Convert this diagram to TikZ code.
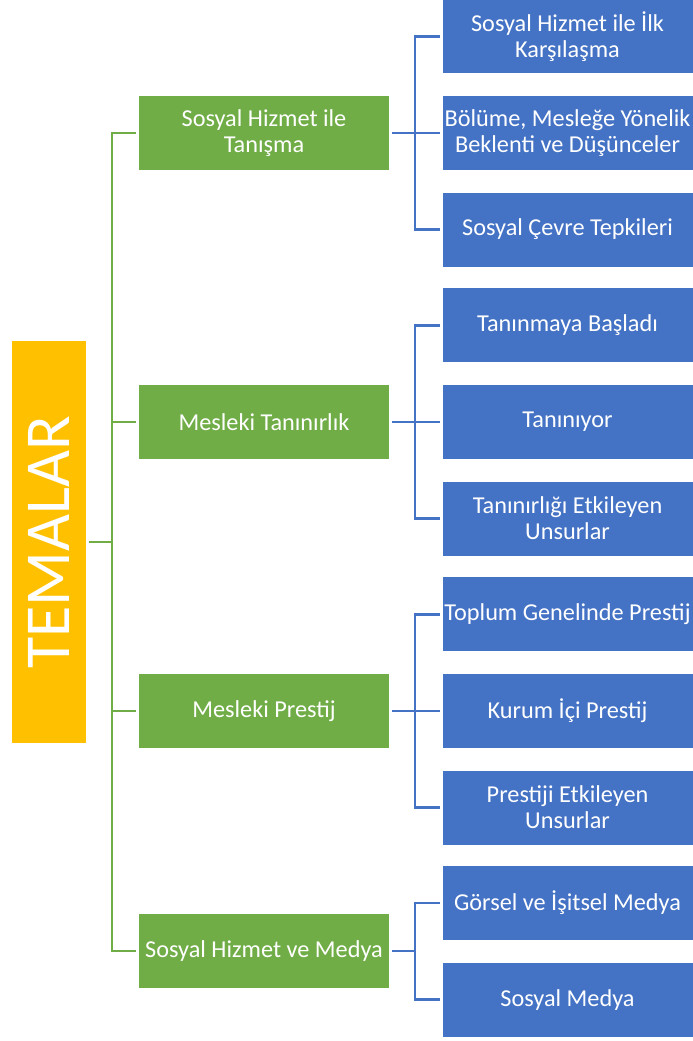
\documentclass[tikz,border=0pt]{standalone}
\usepackage{fontspec}
\setmainfont{Carlito}
\usepackage{graphicx}
\usepackage{tikz}
\usetikzlibrary{positioning}
\definecolor{temagreen}{HTML}{70AD47}
\definecolor{temablue}{HTML}{4472C4}
\definecolor{temaorange}{HTML}{FFC000}

\begin{document}
\begin{tikzpicture}[
    x=0.75pt, y=-0.75pt,
    node distance=16.5pt and 39.75pt,
    themebox/.style={rectangle, fill=temagreen, text=white, align=center, minimum width=187.5pt, minimum height=55.5pt, inner sep=0pt, font=\fontsize{18.2}{19.5}\selectfont},
    subbox/.style={themebox, fill=temablue},
    rootbox/.style={rectangle, fill=temaorange, text=white, minimum width=55.5pt, minimum height=301.5pt, inner sep=0pt, font=\fontsize{48}{58}\selectfont},
    gline/.style={draw=temagreen, line width=1.7pt, shorten >=2.25pt},
    bline/.style={draw=temablue, line width=1.7pt, shorten >=1.5pt}
]
    \useasboundingbox (0,0) rectangle (692,1041);

    \node[rootbox] (root) at (49,542) {\rotatebox{90}{TEMALAR}};

    \node[themebox] (g1) at (264,133) {Sosyal Hizmet ile\\Tanışma};
    \node[themebox] (g2) at (264,422) {Mesleki Tanınırlık};
    \node[themebox] (g3) at (264,711) {Mesleki Prestij};
    \node[themebox] (g4) at (264,951) {Sosyal Hizmet ve Medya};

    % first group
    \node[subbox, right=of g1] (b12) {Bölüme, Mesleğe Yönelik\\Beklenti ve Düşünceler};
    \node[subbox, above=of b12] (b11) {Sosyal Hizmet ile İlk\\Karşılaşma};
    \node[subbox, below=of b12] (b13) {Sosyal Çevre Tepkileri};
    % second group
    \node[subbox, right=of g2] (b22) {Tanınıyor};
    \node[subbox, above=of b22] (b21) {Tanınmaya Başladı};
    \node[subbox, below=of b22] (b23) {Tanınırlığı Etkileyen\\Unsurlar};
    % third group
    \node[subbox, right=of g3] (b32) {Kurum İçi Prestij};
    \node[subbox, above=of b32] (b31) {Toplum Genelinde Prestij};
    \node[subbox, below=of b32] (b33) {Prestiji Etkileyen\\Unsurlar};
    % fourth group
    \node[subbox, right=of g4, yshift=36pt] (b41) {Görsel ve İşitsel Medya};
    \node[subbox, below=of b41] (b42) {Sosyal Medya};

    % green trunk
    \coordinate[left=20.25pt of g1.west] (t1);
    \draw[gline] (root -| t1) -- (root);
    \draw[gline, shorten <=2.25pt] (g1.west) -- (t1) |- (g4.west);
    \draw[gline] (g2.west -| t1) -- (g2.west);
    \draw[gline] (g3.west -| t1) -- (g3.west);

    % blue brackets
    \coordinate[right=19.5pt of g1.east] (k1);
    \coordinate[right=19.5pt of g2.east] (k2);
    \coordinate[right=19.5pt of g3.east] (k3);
    \coordinate[right=19.5pt of g4.east] (k4);
    \draw[bline, shorten <=2.25pt] (g1.east) -- (b12.west);
    \draw[bline, shorten <=1.5pt] (b11.west) -| (k1) |- (b13.west);
    \draw[bline, shorten <=2.25pt] (g2.east) -- (b22.west);
    \draw[bline, shorten <=1.5pt] (b21.west) -| (k2) |- (b23.west);
    \draw[bline, shorten <=2.25pt] (g3.east) -- (b32.west);
    \draw[bline, shorten <=1.5pt] (b31.west) -| (k3) |- (b33.west);
    \draw[bline, shorten >=2.25pt] (k4) -- (g4.east);
    \draw[bline, shorten <=1.5pt] (b41.west) -| (k4) |- (b42.west);
\end{tikzpicture}
\end{document}
